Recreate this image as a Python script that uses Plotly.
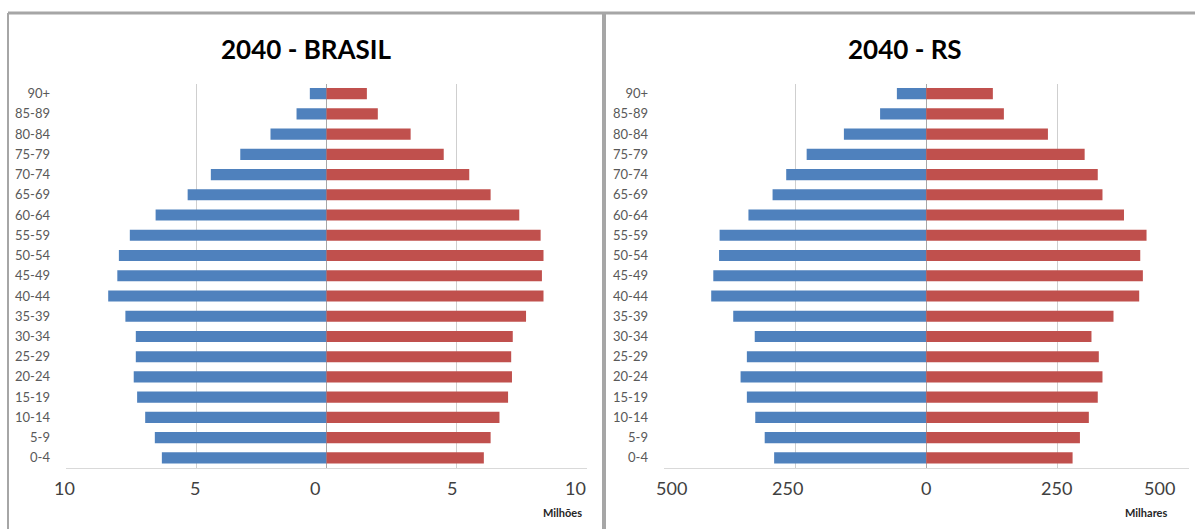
import plotly.graph_objects as go

# Age groups, youngest at the bottom of each pyramid
age_groups = ["0-4", "5-9", "10-14", "15-19", "20-24", "25-29", "30-34", "35-39",
              "40-44", "45-49", "50-54", "55-59", "60-64", "65-69", "70-74",
              "75-79", "80-84", "85-89", "90+"]

# Brasil 2040, millions of people
brasil_homens = [6.32, 6.59, 6.96, 7.27, 7.40, 7.32, 7.32, 7.72, 8.38, 8.03,
                 7.97, 7.55, 6.56, 5.33, 4.44, 3.31, 2.15, 1.15, 0.64]
brasil_mulheres = [6.04, 6.30, 6.64, 6.97, 7.12, 7.09, 7.15, 7.66, 8.33, 8.27,
                   8.33, 8.22, 7.40, 6.30, 5.48, 4.50, 3.23, 1.97, 1.55]

# Rio Grande do Sul 2040, thousands of people
rs_homens = [290, 308, 326, 342, 354, 342, 327, 368, 410, 406,
             395, 394, 339, 293, 267, 228, 157, 88, 56]
rs_mulheres = [279, 293, 310, 327, 336, 329, 315, 357, 406, 413,
               408, 420, 377, 336, 327, 302, 232, 148, 127]

brasil_ticks = [-10, -5, 0, 5, 10]
brasil_ticktext = ["10", "5", "0", "5", "10"]
rs_ticks = [-500, -250, 0, 250, 500]
rs_ticktext = ["500", "250", "0", "250", "500"]

BLUE = "#4F81BD"
RED = "#C0504D"
GRID = "#cfcfcf"
FONT = "Lato, 'Open Sans', sans-serif"

W, H = 1195, 529


def px_x(p):
    return p / W


def px_y(p):
    return 1 - p / H


fig = go.Figure()

fig.add_trace(go.Bar(y=age_groups, x=[-v for v in brasil_homens], orientation="h",
                     marker=dict(color=BLUE, line=dict(width=0)),
                     xaxis="x", yaxis="y", showlegend=False))
fig.add_trace(go.Bar(y=age_groups, x=brasil_mulheres, orientation="h",
                     marker=dict(color=RED, line=dict(width=0)),
                     xaxis="x", yaxis="y", showlegend=False))
fig.add_trace(go.Bar(y=age_groups, x=[-v for v in rs_homens], orientation="h",
                     marker=dict(color=BLUE, line=dict(width=0)),
                     xaxis="x2", yaxis="y2", showlegend=False))
fig.add_trace(go.Bar(y=age_groups, x=rs_mulheres, orientation="h",
                     marker=dict(color=RED, line=dict(width=0)),
                     xaxis="x2", yaxis="y2", showlegend=False))

y_dom = [px_y(468), px_y(83.5)]
left_dom = [px_x(66), px_x(587)]
right_dom = [px_x(664), px_x(1188.5)]

xcommon = dict(showgrid=True, gridcolor=GRID, gridwidth=1,
               zeroline=True, zerolinecolor="#a8a8a8", zerolinewidth=1,
               showline=True, linecolor="#d9d9d9", linewidth=1,
               ticks="", showticklabels=False, automargin=False, fixedrange=True)
ycommon = dict(type="category", categoryorder="array", categoryarray=age_groups,
               range=[-0.5, len(age_groups) - 0.5], showgrid=False,
               showline=False, zeroline=False, ticks="", automargin=False,
               tickfont=dict(family=FONT, size=13, color="#595959"),
               ticklabelstandoff=15, fixedrange=True)

fig.update_layout(
    width=W, height=H, autosize=False,
    margin=dict(l=0, r=0, t=0, b=0, autoexpand=False),
    paper_bgcolor="white", plot_bgcolor="white",
    barmode="relative", bargap=0.45,
    xaxis=dict(domain=left_dom, anchor="y", range=[-10, 10],
               tickvals=brasil_ticks, **xcommon),
    yaxis=dict(domain=y_dom, anchor="x", **ycommon),
    xaxis2=dict(domain=right_dom, anchor="y2", range=[-500, 500],
                tickvals=rs_ticks, **xcommon),
    yaxis2=dict(domain=y_dom, anchor="x2", **ycommon),
)

# Small category separators crossing the vertical zero axis
boundaries = [i - 0.5 for i in range(len(age_groups) + 1)]
for name, over, zero_px in (("yaxis3", "y", 325.5), ("yaxis4", "y", 325.5),
                            ("yaxis5", "y2", 926.5), ("yaxis6", "y2", 926.5)):
    side_ticks = "outside" if name in ("yaxis3", "yaxis5") else "inside"
    fig.layout[name] = dict(overlaying=over, anchor="free", position=px_x(zero_px),
                            domain=y_dom, range=[-0.5, len(age_groups) - 0.5],
                            tickvals=boundaries, ticks=side_ticks, ticklen=3,
                            tickcolor="#b0b0b0", showticklabels=False,
                            showgrid=False, zeroline=False, showline=False,
                            automargin=False, fixedrange=True)

# Value-axis labels, drawn as text so the outermost one stays inside the frame
label_style = dict(showarrow=False, yref="paper", y=px_y(488), yanchor="middle",
                   font=dict(family=FONT, size=18, color="#404040"))
brasil_nudge = [-2, -1, -12, -5, 1]
rs_nudge = [7, -8, 0, -1, -12]
for xref, vals, texts, nudges in (("x", brasil_ticks, brasil_ticktext, brasil_nudge),
                                  ("x2", rs_ticks, rs_ticktext, rs_nudge)):
    for i, (v, t, dx) in enumerate(zip(vals, texts, nudges)):
        anchor = "right" if i == len(vals) - 1 else "center"
        fig.add_annotation(text=t, x=v, xref=xref, xanchor=anchor, xshift=dx,
                           **label_style)

# Panel titles and unit labels
title_style = dict(xref="paper", yref="paper", showarrow=False,
                   xanchor="center", yanchor="middle",
                   font=dict(family=FONT, size=26, color="#000000"))
fig.add_annotation(text="<b>2040 - BRASIL</b>", x=px_x(306), y=px_y(49), **title_style)
fig.add_annotation(text="<b>2040 - RS</b>", x=px_x(905), y=px_y(49), **title_style)

unit_style = dict(xref="paper", yref="paper", showarrow=False,
                  xanchor="right", yanchor="middle",
                  font=dict(family=FONT, size=11, color="#262626"))
fig.add_annotation(text="<b>Milhões</b>", x=px_x(584), y=px_y(512), **unit_style)
fig.add_annotation(text="<b>Milhares</b>", x=px_x(1169), y=px_y(512), **unit_style)

# Chart-area frames
frame_color = "#a6a6a6"
fig.add_shape(type="line", xref="paper", yref="paper",
              x0=px_x(8), x1=1, y0=px_y(13), y1=px_y(13),
              line=dict(color=frame_color, width=3))
fig.add_shape(type="line", xref="paper", yref="paper",
              x0=px_x(8), x1=px_x(8), y0=px_y(13), y1=0,
              line=dict(color=frame_color, width=2))
fig.add_shape(type="line", xref="paper", yref="paper",
              x0=px_x(604), x1=px_x(604), y0=px_y(13), y1=0,
              line=dict(color=frame_color, width=4))

fig.write_html("out.html")
